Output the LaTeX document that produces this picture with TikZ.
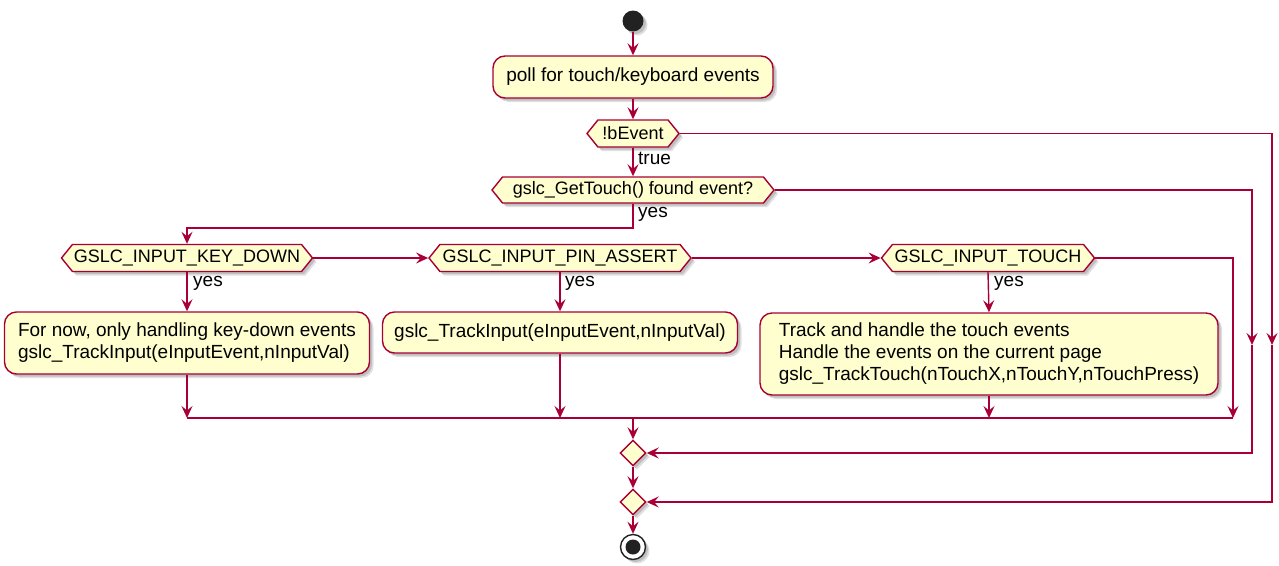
\documentclass[tikz,border=0pt]{standalone}
\usepackage{fontspec}
\setmainfont{Liberation Sans}
\usetikzlibrary{arrows.meta,shapes.geometric,shapes.symbols,shadows}
\definecolor{pborder}{HTML}{A80036}
\definecolor{pfill}{HTML}{FEFECE}
\definecolor{pdark}{HTML}{222222}

\begin{document}
\begin{tikzpicture}[x=1pt,y=-1pt,
  every node/.style={font=\fontsize{19}{22}\selectfont},
  softshadow/.style={
    drop shadow={shadow xshift=4pt, shadow yshift=-4pt, fill=black, opacity=0.12},
    drop shadow={shadow xshift=2.5pt, shadow yshift=-2.5pt, fill=black, opacity=0.15}},
  flow/.style={draw=pborder, line width=1.4pt, -{Stealth[length=12pt,width=11pt,inset=4.5pt]}},
  plain/.style={draw=pborder, line width=1.4pt},
  act/.style={draw=pborder, fill=pfill, line width=1.4pt, rounded corners=12pt,
    inner sep=0pt, align=left, softshadow},
  hexbox/.style={signal, signal to=west and east, signal pointer angle=102,
    draw=pborder, fill=pfill, line width=1.4pt, inner sep=0pt,
    font=\fontsize{18}{22}\selectfont, minimum height=27pt, softshadow},
  merge/.style={diamond, draw=pborder, fill=pfill, line width=1.4pt, inner sep=0pt,
    minimum width=26pt, minimum height=26pt, softshadow},
  lbl/.style={anchor=west, inner sep=0pt},
]
\useasboundingbox (0,0) rectangle (1279,565);

% start
\node[circle, fill=pdark, inner sep=0pt, minimum size=21pt, softshadow] (start) at (633,21) {};

% actions
\node[act, minimum width=280pt, minimum height=42pt] (poll) at (633,77) {poll for touch/keyboard events};
\node[act, minimum width=365pt, minimum height=62pt] (keybox) at (187,343)
  {For now, only handling key-down events\\gslc\_TrackInput(eInputEvent,nInputVal)};
\node[act, minimum width=355pt, minimum height=41pt] (pinbox) at (560,332.5)
  {gslc\_TrackInput(eInputEvent,nInputVal)};
\node[act, minimum width=458pt, minimum height=82pt] (touchbox) at (989,354)
  {Track and handle the touch events\\Handle the events on the current page\\gslc\_TrackTouch(nTouchX,nTouchY,nTouchPress)};

% decisions
\node[hexbox, minimum width=92pt] (bev) at (633,133.5) {!bEvent};
\node[hexbox, minimum width=282pt, minimum height=26pt] (get) at (633,190) {gslc\_GetTouch() found event?};
\node[hexbox, minimum width=251pt] (key) at (187,258) {GSLC\_INPUT\_KEY\_DOWN};
\node[hexbox, minimum width=262pt] (pin) at (560,258) {GSLC\_INPUT\_PIN\_ASSERT};
\node[hexbox, minimum width=213pt] (touch) at (988,258) {GSLC\_INPUT\_TOUCH};

% merges and stop
\node[merge] (d1) at (633,453) {};
\node[merge] (d2) at (633,502) {};
\node[circle, draw=pdark, fill=white, line width=1.4pt, inner sep=0pt, minimum size=25pt, softshadow] (stop) at (633,547) {};
\node[circle, fill=pdark, inner sep=0pt, minimum size=15pt] (stopdot) at (stop.center) {};

% branch labels
\node[lbl] (ltrue) at (638,158) {true};
\node[lbl] (lyes0) at (638,214) {yes};
\node[lbl] (lyes1) at (193,283) {yes};
\node[lbl] (lyes2) at (565,283) {yes};
\node[lbl] (lyes3) at (994,283) {yes};

% helper points on the join bar and the side rails
\coordinate (split) at (633,228);
\coordinate (mrg) at (633,418);
\coordinate (tj) at (1233,418);
\coordinate (gmid) at (1252,345);
\coordinate (bmid) at (1272,345);

% join bar
\draw[plain] (keybox.south |- mrg) -- (tj);

% connectors
\draw[flow] (start.south) -- (poll.north);
\draw[flow] (poll.south) -- (bev.north);
\draw[flow] (bev.south) -- (get.north);
\draw[flow] (get.south) -- (split) -| (key.north);
\draw[flow] (key.east) -- (pin.west);
\draw[flow] (pin.east) -- (touch.west);
\draw[flow] (touch.east) -| (tj);
\draw[flow] (key.south) -- (keybox.north);
\draw[flow] (pin.south) -- (pinbox.north);
\draw[flow] (touch.south) -- (touchbox.north);
\draw[flow] (mrg) -- (d1.north);
\draw[flow] (get.east) -| (gmid);
\draw[flow] (gmid) |- (d1.east);
\draw[flow] (bev.east) -| (bmid);
\draw[flow] (bmid) |- (d2.east);
\draw[flow] (d1.south) -- (d2.north);
\draw[flow] (d2.south) -- (stop.north);
\foreach \b in {keybox,pinbox,touchbox}
  \draw[flow] (\b.south) -- (\b.south |- mrg);
\end{tikzpicture}
\end{document}
